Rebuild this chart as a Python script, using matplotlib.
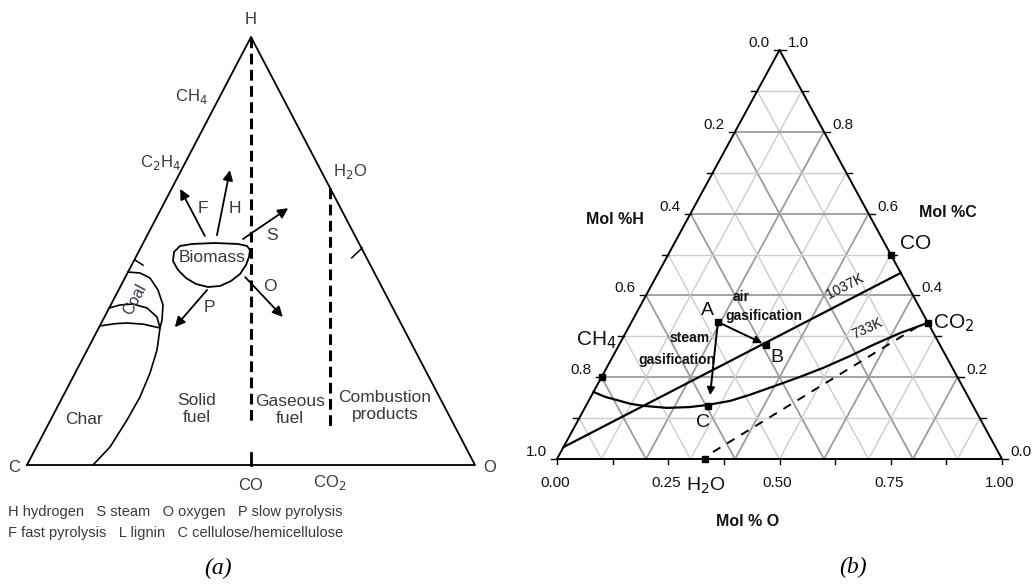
#!/usr/bin/env python3
"""
Two C-H-O diagrams side by side:
  (a) fuel regions on a C-H-O triangle (biomass, coal, char, gases)
  (b) gasification paths on a Mol %H / Mol %C / Mol %O ternary grid
"""

import matplotlib.pyplot as plt
import numpy as np

# ---------------------------------------------------------------------------
# Panel (a) -- positions in diagram units: u runs C(0) -> O(1) along the
# base, v runs base(0) -> H apex(1).
# ---------------------------------------------------------------------------
A_TRI_U = [0.0, 1.0, 0.5, 0.0]
A_TRI_V = [0.0, 0.0, 1.0, 0.0]

# dashed boundaries: H -> CO and H2O -> CO2
A_DASH_CO_U = [0.5, 0.5]
A_DASH_CO_V = [1.0, 0.098]
A_TICK_CO_V = [0.0, 0.028]
A_DASH_CO2_U = [0.676, 0.676]
A_DASH_CO2_V = [0.648, 0.089]

# short edge marks
A_MARK_L_U = [0.241, 0.259]
A_MARK_L_V = [0.479, 0.467]
A_MARK_R_U = [0.748, 0.725]
A_MARK_R_V = [0.507, 0.484]

# coal outer arc, then char boundary down to the base
A_COAL_U = [0.2255, 0.2522, 0.2746, 0.2924, 0.3036, 0.3013, 0.2969,
            0.2902, 0.2746, 0.2522, 0.2232, 0.1853, 0.1473]
A_COAL_V = [0.4509, 0.4486, 0.4369, 0.4089, 0.3738, 0.3388, 0.3201,
            0.2687, 0.2150, 0.1589, 0.1051, 0.0421, 0.0]
# coal lens (upper and lower curves)
A_LENS_UP_U = [0.1834, 0.2076, 0.2366, 0.2679, 0.2902, 0.2969]
A_LENS_UP_V = [0.3668, 0.3738, 0.3762, 0.3668, 0.3458, 0.3201]
A_LENS_LO_U = [0.1624, 0.1950, 0.2232, 0.2600, 0.2969]
A_LENS_LO_V = [0.3248, 0.3300, 0.3318, 0.3290, 0.3201]

# biomass blob outline
A_BIO_U = [0.4978, 0.4955, 0.4888, 0.4754, 0.4554, 0.4308, 0.4040, 0.3772,
           0.3549, 0.3371, 0.3259, 0.3281, 0.3415, 0.3683, 0.4196, 0.4710,
           0.4911, 0.4978]
A_BIO_V = [0.5023, 0.4860, 0.4673, 0.4463, 0.4299, 0.4182, 0.4159, 0.4229,
           0.4369, 0.4556, 0.4766, 0.4977, 0.5117, 0.5164, 0.5187, 0.5164,
           0.5117, 0.5023]

# process arrows out of the biomass blob
A_ARROW_NAMES = ["F", "H", "S", "O", "P"]
A_ARROW_START = [(0.397, 0.535), (0.424, 0.537), (0.482, 0.528),
                 (0.487, 0.439), (0.402, 0.409)]
A_ARROW_END = [(0.342, 0.645), (0.453, 0.689), (0.583, 0.600),
               (0.571, 0.346), (0.330, 0.322)]
A_ARROW_LABEL_POS = [(0.393, 0.600), (0.464, 0.600), (0.547, 0.537),
                     (0.542, 0.416), (0.408, 0.369)]

A_LABELS = [
    # text, u, v, size, ha
    ("H", 0.500, 1.042, 12, "center"),
    ("CH$_4$", 0.368, 0.862, 12, "center"),
    ("C$_2$H$_4$", 0.297, 0.706, 12, "center"),
    ("H$_2$O", 0.721, 0.685, 12, "center"),
    ("C", -0.029, -0.005, 12, "center"),
    ("O", 1.033, -0.005, 12, "center"),
    ("CO", 0.500, -0.047, 12, "center"),
    ("CO$_2$", 0.676, -0.042, 12, "center"),
    ("Biomass", 0.413, 0.484, 12.5, "center"),
    ("Char", 0.127, 0.107, 12.5, "center"),
    ("Solid\nfuel", 0.379, 0.131, 12.5, "center"),
    ("Gaseous\nfuel", 0.587, 0.128, 12.5, "center"),
    ("Combustion\nproducts", 0.799, 0.137, 12.5, "center"),
]
A_COAL_LABEL = ("Coal", 0.241, 0.386, 62)

A_LEGEND = [
    "H hydrogen   S steam   O oxygen   P slow pyrolysis",
    "F fast pyrolysis   L lignin   C cellulose/hemicellulose",
]

# ---------------------------------------------------------------------------
# Panel (b) -- compositions as (mol fraction O, mol fraction C); H = rest.
# ---------------------------------------------------------------------------
B_SPECIES = ["CO", "CO2", "CH4", "H2O"]
B_SPECIES_O = [0.5, 2 / 3, 0.0, 1 / 3]
B_SPECIES_C = [0.5, 1 / 3, 0.2, 0.0]

B_POINTS = ["A", "B", "C"]
B_POINTS_O = [0.194, 0.330, 0.274]
B_POINTS_C = [0.335, 0.279, 0.130]

B_STEAM_HEAD_O = 0.266
B_STEAM_HEAD_C = 0.156

# 1037 K boundary (straight) and 733 K boundary (curved)
B_1037_O = [0.0, 0.545]
B_1037_C = [0.029, 0.455]
B_733_O = [0.0, 0.032, 0.063, 0.097, 0.129, 0.185, 0.235, 0.271, 0.318,
           0.355, 0.401, 0.446, 0.487, 0.533, 0.571, 0.617, 0.667]
B_733_C = [0.164, 0.152, 0.144, 0.135, 0.130, 0.125, 0.127, 0.132, 0.142,
           0.157, 0.179, 0.201, 0.223, 0.252, 0.279, 0.308, 0.333]

# dashed H2O -> CO2 line
B_DASH_O = [0.342, 0.648]
B_DASH_C = [0.017, 0.323]

B_EDGE_TICKS = [i / 10 for i in range(11)]
B_BASE_TICKS = [i / 8 for i in range(9)]
B_LEFT_LABELS = ["0.0", "0.2", "0.4", "0.6", "0.8", "1.0"]   # Mol %H
B_LEFT_LABEL_C = [1.0, 0.8, 0.6, 0.4, 0.2, 0.0]
B_RIGHT_LABELS = ["1.0", "0.8", "0.6", "0.4", "0.2", "0.0"]  # Mol %C
B_RIGHT_LABEL_C = [1.0, 0.8, 0.6, 0.4, 0.2, 0.0]
B_BASE_LABELS = ["0.00", "0.25", "0.50", "0.75", "1.00"]     # Mol %O
B_BASE_LABEL_O = [0.0, 0.25, 0.5, 0.75, 1.0]

TEXT_A = "#383846"
TEXT_B = "#111111"
NARROW = ["Liberation Sans Narrow", "Liberation Sans", "DejaVu Sans"]
SANS = ["Liberation Sans", "DejaVu Sans"]


def tern(o, c):
    """(O, C) mol fractions -> (x, y) in panel (b) units."""
    o = np.asarray(o, dtype=float)
    c = np.asarray(c, dtype=float)
    return o + c / 2, c


def draw_panel_a(ax):
    ax.plot(A_TRI_U, A_TRI_V, color="black", lw=1.3)
    dash = (0, (3.5, 1.8))
    ax.plot(A_DASH_CO_U, A_DASH_CO_V, color="black", lw=2.2, linestyle=dash)
    ax.plot(A_DASH_CO_U, A_TICK_CO_V, color="black", lw=2.0)
    ax.plot(A_DASH_CO2_U, A_DASH_CO2_V, color="black", lw=2.2, linestyle=dash)
    ax.plot(A_MARK_L_U, A_MARK_L_V, color="black", lw=1.1)
    ax.plot(A_MARK_R_U, A_MARK_R_V, color="black", lw=1.1)

    ax.plot(A_COAL_U, A_COAL_V, color="black", lw=1.2)
    ax.plot(A_LENS_UP_U, A_LENS_UP_V, color="black", lw=1.2)
    ax.plot(A_LENS_LO_U, A_LENS_LO_V, color="black", lw=1.2)
    ax.plot(A_BIO_U, A_BIO_V, color="black", lw=1.3)

    for name, start, end, lab in zip(A_ARROW_NAMES, A_ARROW_START,
                                     A_ARROW_END, A_ARROW_LABEL_POS):
        ax.annotate("", xy=end, xytext=start,
                    arrowprops=dict(arrowstyle="-|>", color="black", lw=1.3,
                                    mutation_scale=15, shrinkA=0, shrinkB=0))
        ax.text(lab[0], lab[1], name, fontsize=12.5, color=TEXT_A,
                ha="center", va="center", family=SANS)

    for text, u, v, size, ha in A_LABELS:
        ax.text(u, v, text, fontsize=size, color=TEXT_A, ha=ha, va="center",
                family=SANS, linespacing=1.15)
    t, u, v, rot = A_COAL_LABEL
    ax.text(u, v, t, fontsize=11.5, color=TEXT_A, ha="center", va="center",
            rotation=rot, family=SANS)


def draw_panel_b(ax):
    # grid: three families of lines every 0.1, every 0.2 darker
    for k in range(1, 10):
        f = k / 10
        dark = k % 2 == 0
        col = "#9c9c9c" if dark else "#cdcdcd"
        lw = 1.3 if dark else 1.0
        # constant C (horizontal)
        x, y = tern([0.0, 1.0 - f], [f, f])
        ax.plot(x, y, color=col, lw=lw, zorder=1)
        # constant O (parallel to left edge)
        x, y = tern([f, f], [0.0, 1.0 - f])
        ax.plot(x, y, color=col, lw=lw, zorder=1)
        # constant H (parallel to right edge)
        x, y = tern([1.0 - f, 0.0], [0.0, 1.0 - f])
        ax.plot(x, y, color=col, lw=lw, zorder=1)

    x, y = tern([0.0, 1.0, 0.0, 0.0], [0.0, 0.0, 1.0, 0.0])
    ax.plot(x, y, color="black", lw=1.4, zorder=3)

    # edge ticks
    tl = 6 / 445
    for c in B_EDGE_TICKS:
        xl, yl = tern(0.0, c)
        ax.plot([xl, xl - tl], [yl, yl], color="black", lw=1.0, zorder=3)
        xr, yr = tern(1.0 - c, c)
        ax.plot([xr, xr + tl], [yr, yr], color="black", lw=1.0, zorder=3)
    for o in B_BASE_TICKS:
        ax.plot([o, o], [0.0, -5 / 409], color="black", lw=1.0, zorder=3)

    lab_kw = dict(textcoords="offset pixels", fontsize=11, color=TEXT_B,
                  ha="center", va="center", family=NARROW)
    for txt, c in zip(B_LEFT_LABELS, B_LEFT_LABEL_C):
        ax.annotate(txt, xy=tern(0.0, c), xytext=(-21, 7), **lab_kw)
    for txt, c in zip(B_RIGHT_LABELS, B_RIGHT_LABEL_C):
        ax.annotate(txt, xy=tern(1.0 - c, c), xytext=(19, 7), **lab_kw)
    for txt, o in zip(B_BASE_LABELS, B_BASE_LABEL_O):
        ax.annotate(txt, xy=(o, 0.0), xytext=(-2, -24), **lab_kw)

    # temperature boundaries
    x, y = tern(B_1037_O, B_1037_C)
    ax.plot(x, y, color="black", lw=1.6, zorder=4)
    x, y = tern(B_733_O, B_733_C)
    ax.plot(x, y, color="black", lw=1.6, zorder=4)
    x, y = tern(B_DASH_O, B_DASH_C)
    ax.plot(x, y, color="black", lw=1.4, linestyle=(0, (4.5, 4)), zorder=4)

    # gasification paths
    a_xy = tern(B_POINTS_O[0], B_POINTS_C[0])
    b_xy = tern(B_POINTS_O[1], B_POINTS_C[1])
    s_xy = tern(B_STEAM_HEAD_O, B_STEAM_HEAD_C)
    arrow = dict(arrowstyle="-|>", color="black", lw=1.4, mutation_scale=11,
                 shrinkA=0, shrinkB=3)
    ax.annotate("", xy=b_xy, xytext=a_xy, arrowprops=arrow, zorder=5)
    ax.annotate("", xy=s_xy, xytext=a_xy,
                arrowprops=dict(arrow, shrinkB=0), zorder=5)

    x, y = tern(B_SPECIES_O + B_POINTS_O, B_SPECIES_C + B_POINTS_C)
    ax.plot(x, y, linestyle="none", marker="s", ms=5, color="black", zorder=6)

    big = dict(color=TEXT_B, va="center", family=NARROW)
    ax.text(0.771, 0.528, "CO", fontsize=15, ha="left", **big)
    ax.text(0.845, 0.333, "CO$_2$", fontsize=15, ha="left", **big)
    ax.text(0.0876, 0.290, "CH$_4$", fontsize=15, ha="center", **big)
    ax.text(0.2900, -0.066, "H$_2$O", fontsize=14, ha="left", **big)
    for name, (u, v) in zip(B_POINTS, [(0.339, 0.364), (0.494, 0.249),
                                       (0.328, 0.090)]):
        ax.text(u, v, name, fontsize=14, ha="center", **big)

    small = dict(color=TEXT_B, va="center", ha="center", family=NARROW,
                 fontsize=10, fontweight="bold")
    ax.text(0.413, 0.396, "air", **small)
    ax.text(0.465, 0.350, "gasification", **small)
    ax.text(0.299, 0.296, "steam", **small)
    ax.text(0.270, 0.242, "gasification", **small)
    ax.text(0.647, 0.421, "1037K", rotation=27, **dict(small, fontweight="normal"))
    ax.text(0.697, 0.320, "733K", rotation=25, **dict(small, fontweight="normal"))

    axis_kw = dict(color=TEXT_B, va="center", ha="center", family=NARROW,
                   fontsize=11.5, fontweight="bold")
    ax.text(0.1303, 0.5844, "Mol %H", **axis_kw)
    ax.text(0.8787, 0.6039, "Mol %C", **axis_kw)
    ax.text(0.4292, -0.154, "Mol % O", **axis_kw)


def main() -> None:
    fig = plt.figure(figsize=(10.35, 5.85), dpi=100)
    fig.patch.set_facecolor("white")

    ax_a = fig.add_axes([0.0, 0.0, 520 / 1035, 1.0])
    ax_a.set_xlim(-27 / 448, (520 - 27) / 448)
    ax_a.set_ylim((465 - 585) / 428, 465 / 428)
    ax_a.axis("off")
    draw_panel_a(ax_a)

    ax_b = fig.add_axes([520 / 1035, 0.0, 515 / 1035, 1.0])
    ax_b.set_xlim((520 - 557) / 445, (1035 - 557) / 445)
    ax_b.set_ylim((459 - 585) / 409, 459 / 409)
    ax_b.axis("off")
    draw_panel_b(ax_b)

    for i, line in enumerate(A_LEGEND):
        fig.text(8 / 1035, 1 - (512 + 21 * i) / 585, line, fontsize=10.5,
                 color=TEXT_A, ha="left", va="center", family=SANS)
    serif = ["Liberation Serif", "DejaVu Serif"]
    fig.text(218 / 1035, 1 - 568 / 585, "(a)", fontsize=17, style="italic",
             ha="center", va="center", family=serif)
    fig.text(853 / 1035, 1 - 567 / 585, "(b)", fontsize=17, style="italic",
             ha="center", va="center", family=serif)

    fig.savefig("out.png", dpi=100, facecolor="white")
    plt.close(fig)


if __name__ == "__main__":
    main()
